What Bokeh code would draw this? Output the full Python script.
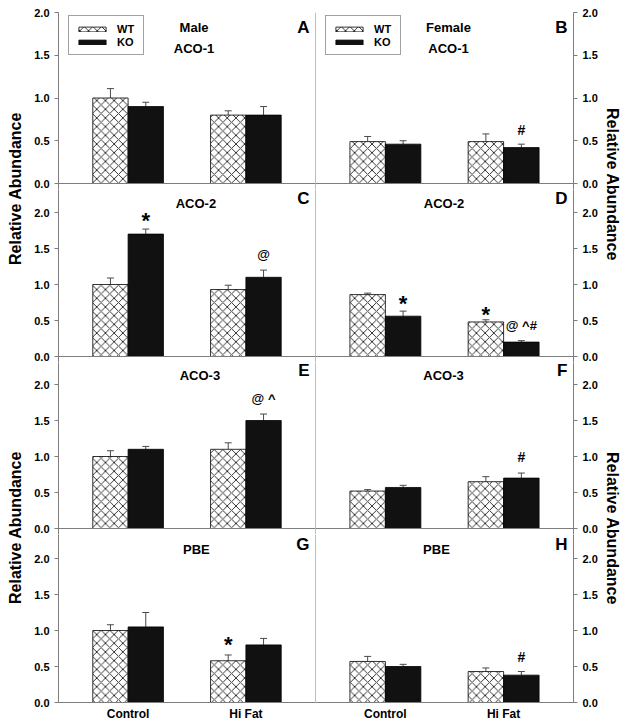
import numpy as np
from bokeh.plotting import figure
from bokeh.models import (Range1d, LinearAxis, FixedTicker, PrintfTickFormatter, Whisker,
                          TeeHead, ColumnDataSource, Label, Legend, LegendItem)
from bokeh.layouts import gridplot, row
from bokeh.embed import file_html
from bokeh.resources import INLINE

# ---------------- data ----------------
groups = ["Control", "Hi Fat"]
y_ticks = [0.0, 0.5, 1.0, 1.5, 2.0]
series = ["WT", "KO"]

A_wt = [1.00, 0.80]; A_wt_err = [0.11, 0.05]; A_ko = [0.90, 0.80]; A_ko_err = [0.05, 0.10]
B_wt = [0.49, 0.49]; B_wt_err = [0.06, 0.09]; B_ko = [0.46, 0.42]; B_ko_err = [0.04, 0.04]
C_wt = [1.00, 0.93]; C_wt_err = [0.09, 0.06]; C_ko = [1.70, 1.10]; C_ko_err = [0.07, 0.10]
D_wt = [0.86, 0.48]; D_wt_err = [0.02, 0.03]; D_ko = [0.56, 0.20]; D_ko_err = [0.07, 0.02]
E_wt = [1.00, 1.10]; E_wt_err = [0.08, 0.09]; E_ko = [1.10, 1.50]; E_ko_err = [0.04, 0.09]
F_wt = [0.52, 0.65]; F_wt_err = [0.02, 0.07]; F_ko = [0.57, 0.70]; F_ko_err = [0.03, 0.07]
G_wt = [1.00, 0.58]; G_wt_err = [0.08, 0.08]; G_ko = [1.05, 0.80]; G_ko_err = [0.20, 0.09]
H_wt = [0.57, 0.43]; H_wt_err = [0.07, 0.05]; H_ko = [0.50, 0.38]; H_ko_err = [0.03, 0.05]

panel_data = {
    "A": (A_wt, A_wt_err, A_ko, A_ko_err), "B": (B_wt, B_wt_err, B_ko, B_ko_err),
    "C": (C_wt, C_wt_err, C_ko, C_ko_err), "D": (D_wt, D_wt_err, D_ko, D_ko_err),
    "E": (E_wt, E_wt_err, E_ko, E_ko_err), "F": (F_wt, F_wt_err, F_ko, F_ko_err),
    "G": (G_wt, G_wt_err, G_ko, G_ko_err), "H": (H_wt, H_wt_err, H_ko, H_ko_err),
}
panel_titles = {"A": ["Male", "ACO-1"], "B": ["Female", "ACO-1"],
                "C": ["ACO-2"], "D": ["ACO-2"], "E": ["ACO-3"], "F": ["ACO-3"],
                "G": ["PBE"], "H": ["PBE"]}
# significance marks: (panel, group index, series, text, height)
marks = [("B", 1, "KO", "#", 0.62), ("C", 0, "KO", "*", 1.92), ("C", 1, "KO", "@", 1.42),
         ("D", 0, "KO", "*", 0.76), ("D", 1, "WT", "*", 0.615), ("D", 1, "KO", "@ ^#", 0.43),
         ("E", 1, "KO", "@ ^", 1.81), ("F", 1, "KO", "#", 0.99), ("G", 1, "WT", "*", 0.835),
         ("H", 1, "KO", "#", 0.63)]
y_title = "Relative Abundance"

# ---------------- style / layout ----------------
FONT = "Liberation Sans"
GRAY = "#7d7d7d"
ERR = "#4a4a4a"
X_START, X_END = -0.591, 1.591
OFFSET, BAR_W = 0.15, 0.30
grid_keys = [["A", "B"], ["C", "D"], ["E", "F"], ["G", "H"]]
row_geom = [
    dict(height=189, top=12, bottom=0, y0=-6 / 85.5, y1=2.0, t1=1.825, t2=1.58, letter=1.83),
    dict(height=173, top=0, bottom=0, y0=-6 / 72, y1=167 / 72, t1=2.13, letter=2.2),
    dict(height=172, top=0, bottom=0, y0=-6 / 72, y1=166 / 72, t1=2.12, letter=2.2),
    dict(height=190, top=0, bottom=22, y0=0.0, y1=168 / 72, t1=2.12, letter=2.2),
]
title_x = {"A": 0.56, "B": 0.534, "C": 0.576, "D": 0.496, "E": 0.61, "F": 0.492,
           "G": 0.58, "H": 0.432}
TOTAL_H = sum(g["height"] for g in row_geom)
LEFT_W, RIGHT_W = 284, 285
LEFT_BORDER, RIGHT_BORDER = 26, 27


def style_axis(ax):
    ax.axis_line_color = GRAY
    ax.axis_line_width = 1
    ax.major_tick_line_color = GRAY
    ax.minor_tick_line_color = None
    ax.major_tick_in = 0
    ax.major_label_text_font = FONT
    ax.major_label_text_font_style = "bold"
    ax.major_label_text_color = "black"


def make_panel(key, r, c):
    g = row_geom[r]
    left = c == 0
    p = figure(width=LEFT_W if left else RIGHT_W, height=g["height"],
               x_range=Range1d(X_START, X_END), y_range=Range1d(g["y0"], g["y1"]),
               x_axis_type=None, y_axis_type=None, toolbar_location=None,
               output_backend="svg", outline_line_color=None,
               min_border_left=LEFT_BORDER if left else 0,
               min_border_right=0 if left else RIGHT_BORDER,
               min_border_top=g["top"], min_border_bottom=g["bottom"],
               background_fill_color="white", border_fill_color="white")

    wt, wt_err, ko, ko_err = panel_data[key]
    idx = np.arange(len(groups), dtype=float)
    x_wt, x_ko = idx - OFFSET, idx + OFFSET
    r_wt = p.vbar(x=x_wt, top=wt, bottom=0, width=BAR_W, fill_color="white",
                  line_color="black", line_width=0.8, hatch_pattern="x",
                  hatch_scale=8.7, hatch_weight=0.8, hatch_color="black")
    r_ko = p.vbar(x=x_ko, top=ko, bottom=0, width=BAR_W, fill_color="#111111",
                  line_color="black", line_width=0.8)
    for xs, vals, errs in ((x_wt, wt, wt_err), (x_ko, ko, ko_err)):
        src = ColumnDataSource(dict(x=xs, lo=vals, hi=np.array(vals) + np.array(errs)))
        p.add_layout(Whisker(source=src, base="x", lower="lo", upper="hi",
                             dimension="height", line_color=ERR, line_width=1,
                             lower_head=None,
                             upper_head=TeeHead(size=7, line_color=ERR, line_width=1)))

    # y axis
    yax = LinearAxis(ticker=FixedTicker(ticks=y_ticks),
                     formatter=PrintfTickFormatter(format="%.1f"))
    style_axis(yax)
    yax.major_tick_out = 4
    yax.major_label_standoff = 5
    yax.major_label_text_font_size = "11px"
    p.add_layout(yax, "left" if left else "right")
    if not left:
        sep = LinearAxis(ticker=FixedTicker(ticks=[]), fixed_location=X_START)
        style_axis(sep)
        sep.major_tick_out = 0
        p.add_layout(sep, "left")

    # x axis
    if r < len(grid_keys) - 1:
        xax = LinearAxis(ticker=FixedTicker(ticks=[]), fixed_location=0)
        style_axis(xax)
        xax.major_tick_out = 0
    else:
        xax = LinearAxis(ticker=FixedTicker(ticks=list(idx)),
                         major_label_overrides={float(i): gname for i, gname in enumerate(groups)})
        style_axis(xax)
        xax.major_tick_out = 0
        xax.major_label_standoff = 4
        xax.major_label_text_font_size = "12px"
    p.add_layout(xax, "below")

    # titles
    titles = panel_titles[key]
    ys = [g["t1"]] if len(titles) == 1 else [g["t1"], g["t2"]]
    for t, ty in zip(titles, ys):
        p.add_layout(Label(x=title_x[key], y=ty, text=t, text_align="center",
                           text_baseline="middle", text_font=FONT, text_font_style="bold",
                           text_font_size="13px", text_color="black"))
    p.add_layout(Label(x=1.54, y=g["letter"], text=key, text_align="right",
                       text_baseline="middle", text_font=FONT, text_font_style="bold",
                       text_font_size="17px", text_color="black"))

    # significance marks
    for (pk, gi, s, txt, yv) in marks:
        if pk != key:
            continue
        xm = gi - OFFSET if s == "WT" else gi + OFFSET
        if txt == "*":
            size, yoff = "22px", -2
        elif txt == "#":
            size, yoff = "14px", 0
        else:
            size, yoff = "13px", 0
        p.add_layout(Label(x=xm, y=yv, text=txt, text_align="center",
                           text_baseline="middle", text_font=FONT, text_font_style="bold",
                           text_font_size=size, text_color="black", y_offset=yoff))

    if r == 0:
        legend = Legend(items=[LegendItem(label=series[0], renderers=[r_wt]),
                               LegendItem(label=series[1], renderers=[r_ko])],
                        location=(10, 134), orientation="vertical")
        legend.glyph_width = 34
        legend.glyph_height = 6
        legend.label_height = 13
        legend.label_standoff = 8
        legend.spacing = 0
        legend.padding = 6
        legend.margin = 0
        legend.label_text_font = FONT
        legend.label_text_font_style = "bold"
        legend.label_text_font_size = "11px"
        legend.label_text_color = "black"
        legend.border_line_color = "#444444"
        legend.border_line_width = 1
        legend.background_fill_color = "white"
        legend.background_fill_alpha = 1
        p.add_layout(legend)
    return p


def title_fig(width, x_local, centers, angle):
    f = figure(width=width, height=TOTAL_H, x_range=Range1d(0, width),
               y_range=Range1d(0, TOTAL_H), x_axis_type=None, y_axis_type=None,
               toolbar_location=None, output_backend="svg", outline_line_color=None,
               min_border=0, border_fill_color="white", background_fill_color="white")
    for cy in centers:
        f.add_layout(Label(x=x_local, y=TOTAL_H - cy, text=y_title, angle=angle,
                           text_align="center", text_baseline="middle", text_font=FONT,
                           text_font_style="bold", text_font_size="16px",
                           text_color="black"))
    return f


panels = [[make_panel(k, r, c) for c, k in enumerate(rk)] for r, rk in enumerate(grid_keys)]
grid = gridplot(panels, toolbar_location=None)
left_t = title_fig(31, 15, [188, 527], np.pi / 2)
right_t = title_fig(26, 12, [184, 528], -np.pi / 2)
layout = row(left_t, grid, right_t)

open("out.html", "w").write(file_html(layout, INLINE))
